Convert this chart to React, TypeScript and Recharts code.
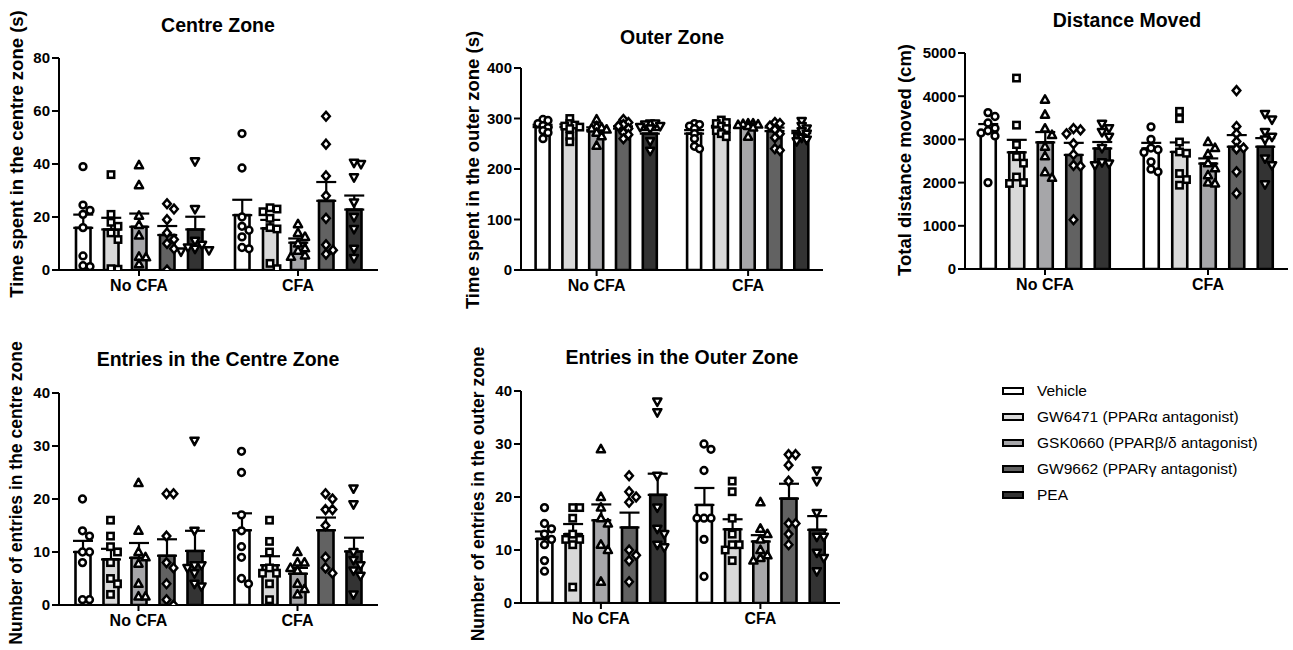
import { Bar, Cell, ComposedChart, ErrorBar, Scatter, XAxis, YAxis } from "recharts";

const FONT = 'Arial, "Liberation Sans", sans-serif';

const groups = ["No CFA", "CFA"];
const treatments = [
  "Vehicle",
  "GW6471 (PPARα antagonist)",
  "GSK0660 (PPARβ/δ antagonist)",
  "GW9662 (PPARγ antagonist)",
  "PEA",
];
const fills = ["#ffffff", "#d9d9d9", "#a6a6a9", "#626262", "#333333"];

// bars ordered: No CFA x5 treatments, then CFA x5 treatments
const centreTimeMean = [15.9, 15.3, 16.3, 13.2, 15.3, 20.7, 15.7, 10.3, 26.1, 22.8];
const centreTimeSem = [5.0, 4.4, 5.0, 3.4, 4.8, 5.8, 3.2, 1.6, 7.1, 5.3];
const centreTimePoints = [
  [39, 24.5, 22.5, 21, 16, 5.3, 1.6, 1.3],
  [36, 21, 18, 16.5, 14, 11.5, 0.5, 0.3],
  [39.5, 32, 20.5, 17, 13, 5, 4.8, 2.2],
  [25, 23, 19, 14, 11.5, 10, 8, 0],
  [41, 23, 11, 9.5, 8.5, 8, 7.5, 7],
  [51.5, 38.5, 20, 16.5, 15, 12.5, 8.5, 8],
  [23.5, 23, 22, 19.5, 16, 15.5, 2.5, 0.5],
  [17.3, 14, 12.5, 10, 8.2, 7.3, 5.5, 5],
  [58, 47.5, 35.5, 28, 19.5, 9.5, 7.5, 6],
  [40.5, 40, 35, 25.5, 20, 15.5, 8, 4.5],
];

const outerTimeMean = [283, 283, 277, 280, 270, 270, 282, 283, 275, 271];
const outerTimeSem = [4.5, 5.5, 5.5, 4.5, 7.0, 7.0, 3.5, 3.0, 7.0, 4.5];
const outerTimePoints = [
  [298, 296, 290, 286, 282, 276, 272, 260],
  [300, 290, 287, 285, 283, 280, 265, 254],
  [298, 285, 282, 280, 278, 272, 265, 246],
  [298, 292, 288, 285, 280, 272, 268, 260],
  [290, 290, 288, 285, 283, 280, 255, 236],
  [290, 288, 285, 280, 270, 260, 245, 240],
  [297, 292, 290, 285, 280, 276, 270, 264],
  [290, 290, 289, 288, 287, 285, 282, 264],
  [292, 290, 285, 278, 270, 262, 240, 237],
  [295, 285, 280, 275, 270, 262, 258, 255],
];

const distanceMean = [3170, 2700, 2930, 2640, 2790, 2790, 2710, 2440, 2830, 2830];
const distanceSem = [185, 290, 240, 280, 150, 130, 220, 120, 270, 200];
const distancePoints = [
  [3620, 3530, 3380, 3260, 3200, 3150, 3080, 2000],
  [4420, 3330, 2880, 2600, 2450, 2130, 2000, 1980],
  [3920, 3570, 3250, 3100, 2830, 2610, 2240, 2110],
  [3250, 3220, 3130, 2900, 2650, 2400, 2380, 1140],
  [3360, 3260, 3170, 3060, 2800, 2470, 2440, 2400],
  [3290, 3000, 2800, 2760, 2700, 2480, 2310, 2250],
  [3650, 3480, 2940, 2710, 2680, 2210, 2070, 1940],
  [2940, 2800, 2660, 2450, 2330, 2170, 2000, 1980],
  [4130, 3300, 3130, 2950, 2800, 2780, 2250, 1750],
  [3590, 3460, 3170, 3060, 3000, 2560, 2400, 1960],
];

const centreEntriesMean = [10, 8.6, 8.9, 9.3, 10.2, 14.1, 7.5, 5.9, 14.1, 10.1];
const centreEntriesSem = [2.1, 2.0, 2.8, 3.1, 3.8, 3.2, 1.7, 1.1, 2.4, 2.6];
const centreEntriesPoints = [
  [20, 14, 13, 10, 10, 8, 1, 1],
  [16, 13, 11, 10, 8, 5, 4, 2],
  [23, 14, 10, 9, 7.8, 4, 1.6, 1.6],
  [21, 21, 13, 8, 7, 4, 1, 0],
  [31, 14, 7.5, 7.5, 7, 6, 4, 3.5],
  [29, 25, 17, 14, 11, 9, 5, 4],
  [16, 12, 10, 7, 6, 6, 4, 1],
  [10, 8, 8, 7, 6.5, 4, 3, 2],
  [21, 20, 18, 18, 15, 9, 7, 6],
  [22, 19, 10, 8.5, 7.5, 6.5, 5.5, 2],
];

const outerEntriesMean = [12.1, 13, 15.6, 14.25, 20.4, 18.5, 13.9, 11.6, 19.7, 13.8];
const outerEntriesSem = [1.4, 1.9, 3.0, 2.8, 4.0, 3.2, 1.9, 1.2, 2.8, 2.6];
const outerEntriesPoints = [
  [18, 15, 14, 13, 12, 11, 8, 6],
  [18, 18, 16, 13, 12, 12, 11, 3],
  [29, 20, 18, 16, 15, 11, 10, 4],
  [24, 21, 20, 19, 10, 9, 8, 4],
  [38, 36, 24, 18, 14, 13, 11, 10.5],
  [30, 29, 25, 16, 16, 16, 12, 5],
  [23, 21, 16, 13, 11, 11, 10, 8],
  [19, 14, 13, 12, 10, 9, 8.5, 8],
  [28, 28, 26, 23, 15, 15, 13, 11],
  [25, 23, 17, 12.5, 12.5, 9.5, 8.5, 6],
];

const panels = [
  {
    title: "Centre Zone", yLabel: "Time spent in the centre zone (s)",
    mean: centreTimeMean, sem: centreTimeSem, points: centreTimePoints,
    yMax: 80, yTicks: [0, 20, 40, 60, 80],
    x0: 59, y0: 58, x1: 378, y1: 270, first: 24, step: 28, second: 183, barSize: 14.5,
    titleX: 218, titleY: 25, labelX: 17, labelY: 154, labelSize: 18.5, slot: 7, maxSlots: 2,
  },
  {
    title: "Outer Zone", yLabel: "Time spent in the outer zone (s)",
    mean: outerTimeMean, sem: outerTimeSem, points: outerTimePoints,
    yMax: 400, yTicks: [0, 100, 200, 300, 400],
    x0: 521, y0: 68, x1: 823, y1: 270, first: 22, step: 26.8, second: 173.5, barSize: 14,
    titleX: 672, titleY: 37, labelX: 473, labelY: 170, labelSize: 18.5, slot: 5, maxSlots: 2,
  },
  {
    title: "Distance Moved", yLabel: "Total distance moved (cm)",
    mean: distanceMean, sem: distanceSem, points: distancePoints,
    yMax: 5000, yTicks: [0, 1000, 2000, 3000, 4000, 5000],
    x0: 965, y0: 53, x1: 1288, y1: 269, first: 23, step: 28.5, second: 186, barSize: 15,
    titleX: 1127, titleY: 20, labelX: 905, labelY: 160, labelSize: 18.5, slot: 7, maxSlots: 2,
  },
  {
    title: "Entries in the Centre Zone", yLabel: "Number of entries in the centre zone",
    mean: centreEntriesMean, sem: centreEntriesSem, points: centreEntriesPoints,
    yMax: 40, yTicks: [0, 10, 20, 30, 40],
    x0: 59, y0: 393, x1: 378, y1: 605, first: 23.5, step: 28, second: 182.5, barSize: 15,
    titleX: 218, titleY: 359, labelX: 16, labelY: 493, labelSize: 17.5, slot: 7, maxSlots: 2,
  },
  {
    title: "Entries in the Outer Zone", yLabel: "Number of entries in the outer zone",
    mean: outerEntriesMean, sem: outerEntriesSem, points: outerEntriesPoints,
    yMax: 40, yTicks: [0, 10, 20, 30, 40],
    x0: 521, y0: 391, x1: 840, y1: 603, first: 23.5, step: 28.2, second: 183, barSize: 15,
    titleX: 682, titleY: 357, labelX: 478, labelY: 494, labelSize: 17.5, slot: 7, maxSlots: 2,
  },
];

// horizontal spread of overlapping dots (pixel offsets)
function spread(values: number[], pxPerUnit: number, slot: number, maxSlots: number) {
  const placed: { dx: number; py: number }[] = [];
  const cands = [0];
  for (let k = 1; k <= maxSlots; k++) cands.push(k * slot, -k * slot);
  return values.map((v) => {
    const py = v * pxPerUnit;
    let best = 0;
    let bestScore = -1;
    for (const c of cands) {
      const score = placed.length
        ? Math.min(...placed.map((p) => Math.hypot(p.dx - c, p.py - py)))
        : Infinity;
      if (score >= slot) { best = c; break; }
      if (score > bestScore) { bestScore = score; best = c; }
    }
    placed.push({ dx: best, py });
    return best;
  });
}

function Marker({ kind, cx, cy }: { kind: number; cx: number; cy: number }) {
  const s = { fill: "#fff", stroke: "#000", strokeWidth: 2.5 };
  if (kind === 0) return <circle cx={cx} cy={cy} r={3.4} {...s} />;
  if (kind === 1) return <rect x={cx - 3.2} y={cy - 3.2} width={6.4} height={6.4} {...s} />;
  if (kind === 2)
    return <polygon points={`${cx},${cy - 4.4} ${cx + 4.1},${cy + 3} ${cx - 4.1},${cy + 3}`} {...s} strokeLinejoin="round" />;
  if (kind === 3)
    return <polygon points={`${cx},${cy - 4.4} ${cx + 3.8},${cy} ${cx},${cy + 4.4} ${cx - 3.8},${cy}`} {...s} />;
  return <polygon points={`${cx},${cy + 4.4} ${cx + 4.1},${cy - 3} ${cx - 4.1},${cy - 3}`} {...s} strokeLinejoin="round" />;
}

const YW = 60;
const MT = 12;
const MR = 6;
const XH = 40;

function Panel({ p }: { p: (typeof panels)[number] }) {
  const W = p.x1 - p.x0;
  const H = p.y1 - p.y0;
  const centers = [0, 1, 2, 3, 4]
    .map((i) => p.first + i * p.step)
    .concat([0, 1, 2, 3, 4].map((i) => p.second + i * p.step));
  const barData = centers.map((x, i) => ({ x, v: p.mean[i], err: [0, p.sem[i]] }));
  const pxPerUnit = H / p.yMax;
  const dots = treatments.map((_, t) =>
    [0, 1].flatMap((g) => {
      const idx = g * 5 + t;
      const offs = spread(p.points[idx], pxPerUnit, p.slot, p.maxSlots);
      return p.points[idx].map((v, k) => ({ x: centers[idx] + offs[k], v }));
    })
  );
  const axisStyle = { stroke: "#000", strokeWidth: 2 };
  return (
    <>
      <div
        style={{
          position: "absolute", left: p.titleX, top: p.titleY, transform: "translate(-50%, -50%)",
          fontWeight: "bold", fontSize: 19.5, whiteSpace: "nowrap",
        }}
      >
        {p.title}
      </div>
      <div
        style={{
          position: "absolute", left: p.labelX, top: p.labelY,
          transform: "translate(-50%, -50%) rotate(-90deg)",
          fontWeight: "bold", fontSize: p.labelSize, whiteSpace: "nowrap",
        }}
      >
        {p.yLabel}
      </div>
      <div style={{ position: "absolute", left: p.x0 - YW, top: p.y0 - MT }}>
        <ComposedChart
          width={W + YW + MR}
          height={H + MT + XH}
          data={barData}
          margin={{ top: MT, right: MR, left: 0, bottom: 0 }}
        >
          <XAxis
            dataKey="x"
            type="number"
            domain={[0, W]}
            allowDataOverflow
            ticks={[centers[2], centers[7]]}
            tickFormatter={(_v, i) => groups[i]}
            height={XH}
            axisLine={axisStyle}
            tickLine={axisStyle}
            tickSize={6}
            tickMargin={4}
            tick={{ fill: "#000", fontSize: 16, fontWeight: "bold", fontFamily: FONT }}
          />
          <XAxis xAxisId="dots" dataKey="x" type="number" domain={[0, W]} allowDataOverflow hide />
          <YAxis
            dataKey="v"
            type="number"
            domain={[0, p.yMax]}
            allowDataOverflow
            ticks={p.yTicks}
            interval={0}
            width={YW}
            axisLine={axisStyle}
            tickLine={axisStyle}
            tickSize={7}
            tickMargin={2}
            tick={{ fill: "#000", fontSize: 15, fontWeight: "bold", fontFamily: FONT }}
          />
          <Bar dataKey="v" barSize={p.barSize} stroke="#000" strokeWidth={2.6} isAnimationActive={false}>
            {barData.map((_d, i) => (
              <Cell key={i} fill={fills[i % 5]} />
            ))}
            <ErrorBar dataKey="err" width={10} stroke="#000" strokeWidth={2.2} direction="y" />
          </Bar>
          {dots.map((d, t) => (
            <Scatter
              key={t}
              xAxisId="dots"
              data={d}
              dataKey="v"
              isAnimationActive={false}
              shape={(sp: any) => <Marker kind={t} cx={sp.cx} cy={sp.cy} />}
            />
          ))}
        </ComposedChart>
      </div>
    </>
  );
}

function LegendBox() {
  const rows = [391, 417, 443, 469, 495];
  return (
    <>
      {treatments.map((name, i) => (
        <div key={name}>
          <div
            style={{
              position: "absolute", left: 1002, top: rows[i] - 4, width: 22, height: 8,
              boxSizing: "border-box", border: "2.5px solid #000", background: fills[i],
            }}
          />
          <div
            style={{
              position: "absolute", left: 1037, top: rows[i], transform: "translateY(-50%)",
              fontSize: 15.5, whiteSpace: "nowrap",
            }}
          >
            {name}
          </div>
        </div>
      ))}
    </>
  );
}

export default function App() {
  return (
    <div
      style={{
        position: "absolute", left: 0, top: 0, width: 1293, height: 650, overflow: "hidden",
        background: "#fff", fontFamily: FONT, color: "#000",
      }}
    >
      {panels.map((p) => (
        <Panel key={p.title} p={p} />
      ))}
      <LegendBox />
    </div>
  );
}
